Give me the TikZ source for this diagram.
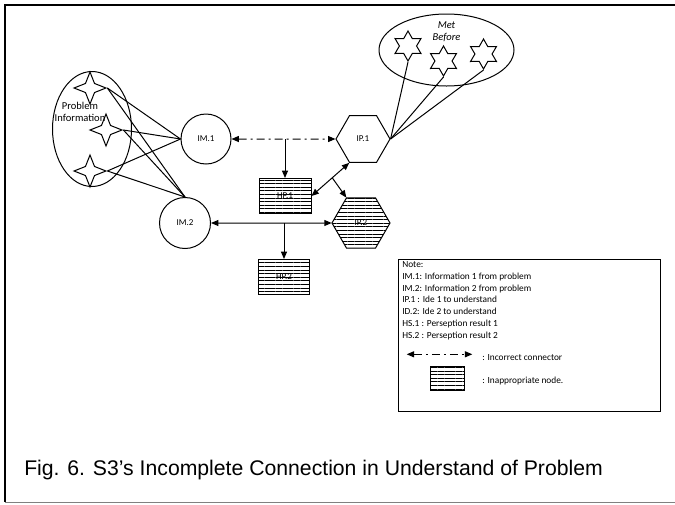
\documentclass[tikz,border=0pt]{standalone}
\usepackage{fontspec}
\setmainfont{Carlito}
\newfontfamily\capfont{Liberation Sans}
\usetikzlibrary{shapes.geometric,arrows.meta,patterns.meta,calc}

\tikzset{
  >={Triangle[length=5.5pt,width=4.5pt]},
  thinline/.style={line width=0.75pt},
  dashdot/.style={dash pattern=on 6pt off 3pt on 1.5pt off 3pt},
  hatched/.style={pattern={Lines[angle=0,distance=2.7pt,line width=0.45pt]}},
  labelfont/.style={font=\fontsize{6.75}{8}\selectfont},
  notefont/.style={font=\fontsize{7}{8.8}\selectfont},
  infonode/.style={draw, circle, thinline, inner sep=0pt, labelfont},
  ipnode/.style={draw, regular polygon, regular polygon sides=6, thinline, inner sep=0pt, labelfont},
  hpnode/.style={draw, rectangle, thinline, hatched, inner sep=0pt, labelfont},
  starfour/.style={draw, star, star points=4, star point ratio=2.5, minimum size=24pt, inner sep=0pt, thinline},
  starsix/.style={draw, star, star points=6, star point ratio=1.75, minimum size=22.5pt, inner sep=0pt, thinline}
}

\begin{document}
\begin{tikzpicture}[x=0.75pt,y=0.75pt,yscale=-1,xscale=1]
\useasboundingbox (0,0) rectangle (675,504);

%Frame
\draw [line width=1.5pt] (675,5) -- (5,5) -- (5,502) ;
\draw [thinline, gray] (5,502) -- (675,502) ;

%Problem information
\node [draw, ellipse, thinline, minimum width=59.25pt, minimum height=86.25pt, inner sep=0pt] (pinfo) at (92,129) {};
\node [font=\fontsize{7.9}{9}\selectfont, align=center, inner sep=0pt] (pinfotext) at (80,112) {Problem\\Information};
\node [starfour] (sfa) at (90,88) {};
\node [starfour] (sfb) at (106,130) {};
\node [starfour] (sfc) at (90,171) {};

%Met before
\node [draw, ellipse, thinline, minimum width=101.25pt, minimum height=54pt, inner sep=0pt] (met) at (446.5,50) {};
\node [font=\itshape\fontsize{7.9}{9}\selectfont, align=center, inner sep=0pt] (mettext) at (446.5,31.5) {Met\\Before};
\node [starsix] (sxa) at (408,46) {};
\node [starsix] (sxb) at (443.5,61) {};
\node [starsix] (sxc) at (483.5,54) {};

%Main nodes
\node [infonode, minimum size=37.5pt] (im1) at (206,139) {IM.1};
\node [infonode, minimum size=38.25pt] (im2) at (185,223) {IM.2};
\node [ipnode, minimum size=40.5pt] (ip1) at (363,139) {IP.1};
\node [ipnode, hatched, minimum size=43.5pt] (ip2) at (361,223) {IP.2};
\node [hpnode, minimum width=39pt, minimum height=26.25pt] (hp1) at (285,196) {HP.1};
\node [hpnode, minimum width=38.25pt, minimum height=26.25pt] (hp2) at (284,277) {HP.2};

%Star lines
\draw [thinline] (sfa.east) -- (im1.west) ;
\draw [thinline] (sfa.east) -- (im2.north) ;
\draw [thinline] (sfb.east) -- (im1.west) ;
\draw [thinline] (sfb.east) -- (im2.north) ;
\draw [thinline] (sfc.east) -- (im1.west) ;
\draw [thinline] (sfc.east) -- (im2.north) ;
\draw [thinline] (sxa.south) -- (ip1.east) ;
\draw [thinline] (sxb.south) -- (ip1.east) ;
\draw [thinline] (sxc.south) -- (ip1.east) ;

%Connectors
\draw [thinline, dashdot, <->] (im1.east) -- (ip1.west) ;
\draw [thinline, ->] (hp1.north |- im1.east) -- (hp1.north) ;
\draw [thinline, <->] (hp1.east) -- (ip1.240) ;
\draw [thinline, ->] ($(hp1.east)!0.55!(ip1.240)$) -- (ip2.120) ;
\draw [thinline, <->] (im2.east) -- (ip2.west) ;
\draw [thinline, ->] (hp2.north |- im2.east) -- (hp2.north) ;

%Note box
\node [draw, thinline, minimum width=196.3pt, minimum height=114.3pt, inner sep=0pt] (note) at (529.85,335.5) {};
\node [notefont, anchor=north west, align=left, inner sep=0pt] (notetext) at (402,261.5) {Note:\\IM.1: Information 1 from problem\\IM.2: Information 2 from problem\\IP.1 : Ide 1 to understand\\ID.2: Ide 2 to understand\\HS.1 : Perseption result 1\\HS.2 : Perseption result 2};
\coordinate (legl) at (406.7,354.3);
\coordinate (legr) at (472.3,354.3);
\draw [thinline, dashdot, <->] (legl) -- (legr) ;
\node [notefont, anchor=west, inner sep=0pt] (legtexta) at (482,357.5) {: Incorrect connector};
\node [hpnode, minimum width=25.5pt, minimum height=18pt] (leghp) at (447,378) {};
\node [notefont, anchor=west, inner sep=0pt] (legtextb) at (482,381) {: Inappropriate node.};

% Caption
\node [font=\capfont\fontsize{15.9}{18}\selectfont, anchor=west, inner sep=0pt] (caption) at (24,470) {Fig. 6. S3’s Incomplete Connection in Understand of Problem};

\end{tikzpicture}
\end{document}
